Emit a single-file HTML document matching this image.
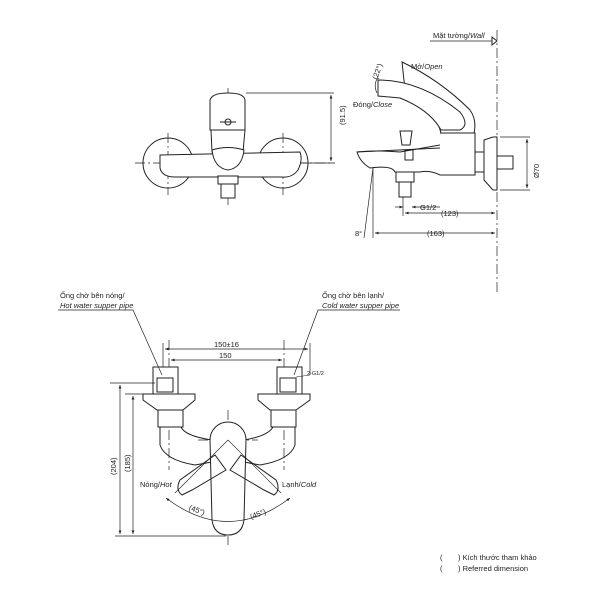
<!DOCTYPE html>
<html><head><style>
body{margin:0;background:#fff}
svg{display:block}
text{font-family:"Liberation Sans",sans-serif;fill:#222}
</style></head><body>
<svg width="600" height="600" viewBox="0 0 600 600" xmlns="http://www.w3.org/2000/svg">
<defs>
<marker id="a" viewBox="0 0 10 10" refX="10" refY="5" markerWidth="5" markerHeight="5" orient="auto-start-reverse"><path d="M0,1 L10,5 L0,9z" fill="#222"/></marker>
</defs>
<g fill="none" stroke="#222" stroke-width="1">
<g stroke-dasharray="10,3,2,3" stroke-width="0.7">
<line x1="135" y1="163" x2="335" y2="163"/>
<line x1="168" y1="133" x2="168" y2="195"/>
<line x1="283" y1="133" x2="283" y2="195"/>
<line x1="228" y1="88" x2="228" y2="205"/>
</g>
<circle cx="168" cy="163" r="25"/>
<circle cx="283" cy="163" r="25"/>
<path d="M160,155 L300,152 Q303,160 298,170 Q292,178 282,177 L175,177 Q162,177 160,168 Z" fill="#fff"/>
<path d="M210,130 L210,100 Q212,93 228,93 Q244,93 245,100 L245,130 Z" fill="#fff"/>
<path d="M211,130 L245,130 L243,152 L212,152 Z" fill="#fff"/>
<path d="M212,150 Q228,145 244,150 Q242,168 228,170 Q214,168 212,150Z" fill="#fff"/>
<circle cx="228" cy="122" r="3"/>
<line x1="220" y1="122" x2="236" y2="122"/>
<rect x="218" y="176" width="20" height="8" fill="#fff"/>
<rect x="221" y="184" width="14" height="14" fill="#fff"/>
<line x1="246" y1="93" x2="334" y2="93" stroke-width="0.7"/>
<line x1="300" y1="163" x2="334" y2="163" stroke-width="0.7"/>
<line x1="331" y1="95" x2="331" y2="161" stroke-width="0.7" marker-start="url(#a)" marker-end="url(#a)"/>

<line x1="497" y1="30" x2="497" y2="295" stroke-dasharray="10,3,2,3" stroke-width="0.7"/>
<line x1="430" y1="41" x2="493" y2="41" stroke-width="0.7"/>
<path d="M492,37 L497,41 L492,45Z" fill="#fff"/>
<path d="M402,62 Q440,80 470,110 Q477,120 474,133 L441,133 L437,120 Q425,100 405,90Z" fill="#fff"/>
<path d="M378,80 Q420,80 460,112 Q470,125 460,130 L441,130 Q430,110 400,98 L378,96Z" fill="#fff"/>
<path d="M440,133 L475,133 L475,175 L440,175" fill="#fff"/>
<path d="M440,175 Q430,170 420,172 L395,172 Q392,165 370,168 Q360,162 357,152 L440,148" fill="#fff"/>
<path d="M357,152 Q375,150 400,152 L440,145" />
<rect x="405" y="150" width="8" height="10"/>
<path d="M400,131 L412,131 L410,145 L402,145Z" fill="#fff"/>
<rect x="396" y="172" width="18" height="10" fill="#fff"/>
<rect x="399" y="182" width="12" height="15" fill="#fff"/>
<rect x="475" y="152" width="9" height="20" fill="#fff"/>
<path d="M484,140 L493,137 L497,137 L497,190 L493,190 L484,180Z" fill="#fff"/>
<rect x="497" y="156" width="16" height="13" fill="#fff"/>
<path d="M378,77 Q373,85 377,93" stroke-width="0.7"/>
<line x1="500" y1="137" x2="530" y2="137" stroke-width="0.7"/>
<line x1="500" y1="190" x2="530" y2="190" stroke-width="0.7"/>
<line x1="527" y1="139" x2="527" y2="188" stroke-width="0.7" marker-start="url(#a)" marker-end="url(#a)"/>
<line x1="403" y1="197" x2="403" y2="216" stroke-width="0.7"/>
<line x1="395" y1="207" x2="403" y2="207" stroke-width="0.7" marker-end="url(#a)"/>
<line x1="412" y1="207" x2="440" y2="207" stroke-width="0.7" marker-start="url(#a)"/>
<line x1="405" y1="213" x2="495" y2="213" stroke-width="0.7" marker-start="url(#a)" marker-end="url(#a)"/>
<line x1="373" y1="168" x2="373" y2="238" stroke-width="0.7"/>
<line x1="373" y1="168" x2="364" y2="238" stroke-width="0.7"/>
<line x1="375" y1="233" x2="495" y2="233" stroke-width="0.7" marker-start="url(#a)" marker-end="url(#a)"/>

<g stroke-dasharray="10,3,2,3" stroke-width="0.7">
<line x1="169" y1="340" x2="169" y2="470"/>
<line x1="284" y1="340" x2="284" y2="470"/>
<line x1="228" y1="410" x2="228" y2="545"/>
<line x1="198" y1="440" x2="258" y2="440"/>
</g>
<line x1="163" y1="343" x2="163" y2="375" stroke-width="0.7"/>
<line x1="310" y1="343" x2="310" y2="375" stroke-width="0.7"/>
<line x1="165" y1="349" x2="308" y2="349" stroke-width="0.7" marker-start="url(#a)" marker-end="url(#a)"/>
<line x1="171" y1="360" x2="282" y2="360" stroke-width="0.7" marker-start="url(#a)" marker-end="url(#a)"/>
<rect x="153" y="367" width="25" height="27" fill="#fff"/>
<rect x="157" y="378" width="16" height="14"/>
<rect x="277" y="367" width="25" height="27" fill="#fff"/>
<rect x="280" y="378" width="16" height="14"/>
<path d="M143,394 L195,394 L195,400 L183,410 L157,410 L143,400Z" fill="#fff"/>
<path d="M258,394 L310,394 L310,400 L296,410 L270,410 L258,400Z" fill="#fff"/>
<rect x="158" y="410" width="25" height="17" fill="#fff"/>
<rect x="271" y="410" width="25" height="17" fill="#fff"/>
<path d="M160,427 L160,445 Q165,460 195,465 L212,462 M181,427 Q185,436 212,440" />
<path d="M295,427 L295,445 Q290,460 260,465 L244,462 M273,427 Q268,436 244,440"/>
<path d="M210,440 A18,18 0 0 1 246,440 L244,520 Q242,535 228,535 Q214,535 212,520Z" fill="#fff"/>
<path d="M215,455 L180,480 Q175,490 182,495 L192,490 L226,470Z"/>
<path d="M241,455 L276,480 Q281,490 274,495 L264,490 L230,470Z"/>
<line x1="228" y1="440" x2="175" y2="493" stroke-width="0.6"/>
<line x1="228" y1="440" x2="281" y2="493" stroke-width="0.6"/>
<path d="M166,498 Q228,545 290,498" stroke-width="0.7" marker-start="url(#a)" marker-end="url(#a)"/>
<line x1="110" y1="383" x2="155" y2="383" stroke-width="0.7"/>
<line x1="125" y1="394" x2="143" y2="394" stroke-width="0.7"/>
<line x1="115" y1="536" x2="226" y2="536" stroke-width="0.7"/>
<line x1="120" y1="385" x2="120" y2="534" stroke-width="0.7" marker-start="url(#a)" marker-end="url(#a)"/>
<line x1="133" y1="396" x2="133" y2="534" stroke-width="0.7" marker-start="url(#a)" marker-end="url(#a)"/>
<polyline points="58,310 133,310 162,375" stroke-width="0.7"/>
<polyline points="400,310 318,310 294,375" stroke-width="0.7"/>
<line x1="296" y1="377" x2="310" y2="375" stroke-width="0.6"/>
</g>
<g font-size="7.5">
<text x="433" y="38">Mặt tường/<tspan font-style="italic">Wall</tspan></text>
<text x="411" y="69">Mở/<tspan font-style="italic">Open</tspan></text>
<text x="353" y="107">Đóng/<tspan font-style="italic">Close</tspan></text>
<text x="420" y="210">G1/2</text>
<text x="441" y="216">(123)</text>
<text x="427" y="236">(163)</text>
<text x="355" y="236">8°</text>
<text transform="translate(345,125) rotate(-90)">(91.5)</text>
<text transform="translate(539,178) rotate(-90)">Ø70</text>
<text transform="translate(377,80) rotate(-70)">(22°)</text>
<text x="60" y="298">Ống chờ bên nóng/</text>
<text x="60" y="308" font-style="italic">Hot water supper pipe</text>
<text x="322" y="298">Ống chờ bên lạnh/</text>
<text x="322" y="308" font-style="italic">Cold water supper pipe</text>
<text x="214" y="347">150±16</text>
<text x="219" y="358">150</text>
<text x="307" y="375" font-size="5.5">2-G1/2</text>
<text transform="translate(116,475) rotate(-90)">(204)</text>
<text transform="translate(130,472) rotate(-90)">(185)</text>
<text x="140" y="487">Nóng/<tspan font-style="italic">Hot</tspan></text>
<text x="282" y="487">Lạnh/<tspan font-style="italic">Cold</tspan></text>
<text x="188" y="512" transform="rotate(20,195,512)">(45°)</text>
<text x="250" y="517" transform="rotate(-20,257,515)">(45°)</text>
<text x="440" y="560">(</text><text x="458" y="560">) Kích thước tham khảo</text>
<text x="440" y="571">(</text><text x="458" y="571">) Referred dimension</text>
</g>
</svg>
</body></html>
